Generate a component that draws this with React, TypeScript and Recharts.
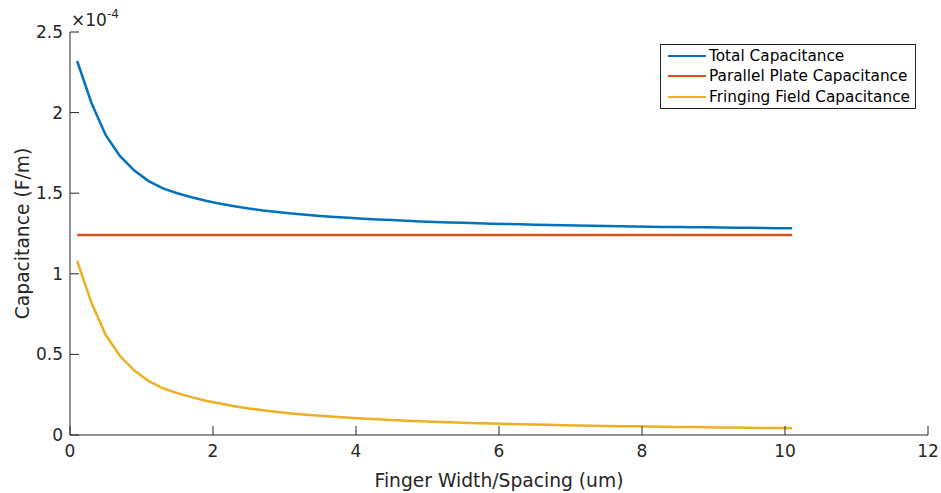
import React from "react";
import { LineChart, Line, XAxis, YAxis, Legend, Label } from "recharts";

// ─── Data (capacitance in units of 1e-4 F/m) ─────────────────────────────────

const widthSpacing = [
  0.1, 0.3, 0.5, 0.7, 0.9, 1.1, 1.3, 1.5, 1.7, 1.9, 2.1, 2.3, 2.5, 2.7, 2.9,
  3.1, 3.3, 3.5, 3.7, 3.9, 4.1, 4.3, 4.5, 4.7, 4.9, 5.1, 5.3, 5.5, 5.7, 5.9,
  6.1, 6.3, 6.5, 6.7, 6.9, 7.1, 7.3, 7.5, 7.7, 7.9, 8.1, 8.3, 8.5, 8.7, 8.9,
  9.1, 9.3, 9.5, 9.7, 9.9, 10.1,
];

const totalCap = [
  2.32, 2.06, 1.86, 1.73, 1.64, 1.575, 1.53, 1.5, 1.475, 1.453, 1.435, 1.419,
  1.405, 1.393, 1.383, 1.374, 1.366, 1.359, 1.353, 1.347, 1.342, 1.337, 1.333,
  1.329, 1.325, 1.322, 1.319, 1.316, 1.313, 1.311, 1.309, 1.307, 1.305, 1.303,
  1.301, 1.299, 1.298, 1.296, 1.295, 1.294, 1.292, 1.291, 1.29, 1.289, 1.288,
  1.287, 1.286, 1.285, 1.284, 1.283, 1.282,
];

const parallelCap = widthSpacing.map(() => 1.24);

const fringeCap = [
  1.08, 0.82, 0.62, 0.49, 0.4, 0.335, 0.29, 0.26, 0.235, 0.213, 0.195, 0.179,
  0.165, 0.153, 0.143, 0.134, 0.126, 0.119, 0.113, 0.107, 0.102, 0.097, 0.093,
  0.089, 0.085, 0.082, 0.079, 0.076, 0.073, 0.071, 0.069, 0.067, 0.065, 0.063,
  0.061, 0.059, 0.058, 0.056, 0.055, 0.054, 0.052, 0.051, 0.05, 0.049, 0.048,
  0.047, 0.046, 0.045, 0.044, 0.043, 0.042,
];

const xTicks = [0, 2, 4, 6, 8, 10, 12];
const yTicks = [0, 0.5, 1, 1.5, 2, 2.5];

const data = widthSpacing.map((x, i) => ({
  x,
  total: totalCap[i],
  parallel: parallelCap[i],
  fringe: fringeCap[i],
}));

// ─── Style ────────────────────────────────────────────────────────────────────

const INK = "#262626";
const FONT = "'DejaVu Sans', sans-serif";
const TICK_LEN = 9;

const SERIES = [
  { key: "total", name: "Total Capacitance", color: "#0072BD" },
  { key: "parallel", name: "Parallel Plate Capacitance", color: "#D95319" },
  { key: "fringe", name: "Fringing Field Capacitance", color: "#EDB120" },
];

// MATLAB-like inward ticks
function BottomTick({ x, y, payload }: any) {
  return (
    <g>
      <line x1={x} x2={x} y1={y} y2={y - TICK_LEN} stroke={INK} />
      <text x={x} y={y + 16} textAnchor="middle" dominantBaseline="central"
        fill={INK} fontFamily={FONT} fontSize={17}>
        {payload.value}
      </text>
    </g>
  );
}

function TopTick({ x, y }: any) {
  return <line x1={x} x2={x} y1={y} y2={y + TICK_LEN} stroke={INK} />;
}

function LeftTick({ x, y, payload }: any) {
  return (
    <g>
      <line x1={x} x2={x + TICK_LEN} y1={y} y2={y} stroke={INK} />
      <text x={x - 7} y={y} textAnchor="end" dominantBaseline="central"
        fill={INK} fontFamily={FONT} fontSize={17}>
        {payload.value}
      </text>
    </g>
  );
}

function RightTick({ x, y }: any) {
  return <line x1={x} x2={x - TICK_LEN} y1={y} y2={y} stroke={INK} />;
}

// legend in plotting order, like MATLAB
function CapLegend() {
  return (
    <div
      style={{
        boxSizing: "border-box",
        width: 256,
        height: 65,
        border: `1px solid ${INK}`,
        background: "#fff",
        padding: "1px 0 0 7px",
        fontFamily: FONT,
        fontSize: 15.3,
        color: "#000",
      }}
    >
      {SERIES.map((s) => (
        <div key={s.key}
          style={{ display: "flex", alignItems: "center", height: 20.3 }}>
          <span style={{ width: 38, borderTop: `2px solid ${s.color}`, marginRight: 3 }} />
          <span style={{ whiteSpace: "nowrap" }}>{s.name}</span>
        </div>
      ))}
    </div>
  );
}

export default function App() {
  return (
    <div style={{ position: "absolute", left: 0, top: 0, background: "#fff" }}>
      <LineChart
        width={941}
        height={493}
        data={data}
        margin={{ top: 32, right: 13, left: 0, bottom: 0 }}
      >
        <XAxis
          dataKey="x"
          type="number"
          domain={[0, 12]}
          ticks={xTicks}
          interval={0}
          height={58}
          tickSize={0}
          tickMargin={0}
          tick={<BottomTick />}
          tickLine={false}
          axisLine={{ stroke: INK }}
        >
          <Label
            content={({ viewBox }: any) => (
              <text x={viewBox.x + viewBox.width / 2} y={480} textAnchor="middle"
                dominantBaseline="central" fill={INK} fontFamily={FONT} fontSize={18.7}>
                Finger Width/Spacing (um)
              </text>
            )}
          />
        </XAxis>
        <XAxis
          xAxisId="top"
          orientation="top"
          dataKey="x"
          type="number"
          domain={[0, 12]}
          ticks={xTicks}
          interval={0}
          height={0}
          tickSize={0}
          tickMargin={0}
          tick={<TopTick />}
          tickLine={false}
          axisLine={{ stroke: INK }}
        />
        <YAxis
          type="number"
          domain={[0, 2.5]}
          ticks={yTicks}
          interval={0}
          width={70}
          tickSize={0}
          tickMargin={0}
          tick={<LeftTick />}
          tickLine={false}
          axisLine={{ stroke: INK }}
        >
          <Label
            content={({ viewBox }: any) => {
              const cy = viewBox.y + viewBox.height / 2;
              return (
                <text x={22} y={cy} transform={`rotate(-90, 22, ${cy})`} textAnchor="middle"
                  dominantBaseline="central" fill={INK} fontFamily={FONT} fontSize={18.7}>
                  Capacitance (F/m)
                </text>
              );
            }}
          />
          <Label
            content={() => (
              <text x={71} y={26} fill={INK} fontFamily={FONT} fontSize={17}>
                ×10
                <tspan fontSize={12} dy={-8}>-4</tspan>
              </text>
            )}
          />
        </YAxis>
        <YAxis
          yAxisId="right"
          orientation="right"
          type="number"
          domain={[0, 2.5]}
          ticks={yTicks}
          interval={0}
          width={0}
          tickSize={0}
          tickMargin={0}
          tick={<RightTick />}
          tickLine={false}
          axisLine={{ stroke: INK }}
        />
        <Legend
          layout="vertical"
          align="center"
          verticalAlign="middle"
          content={<CapLegend />}
          wrapperStyle={{ left: 660, top: 44, width: 256, height: 65 }}
        />
        {SERIES.map((s) => (
          <Line
            key={s.key}
            type="linear"
            dataKey={s.key}
            name={s.name}
            stroke={s.color}
            strokeWidth={2.5}
            dot={false}
            activeDot={false}
            isAnimationActive={false}
          />
        ))}
      </LineChart>
    </div>
  );
}
